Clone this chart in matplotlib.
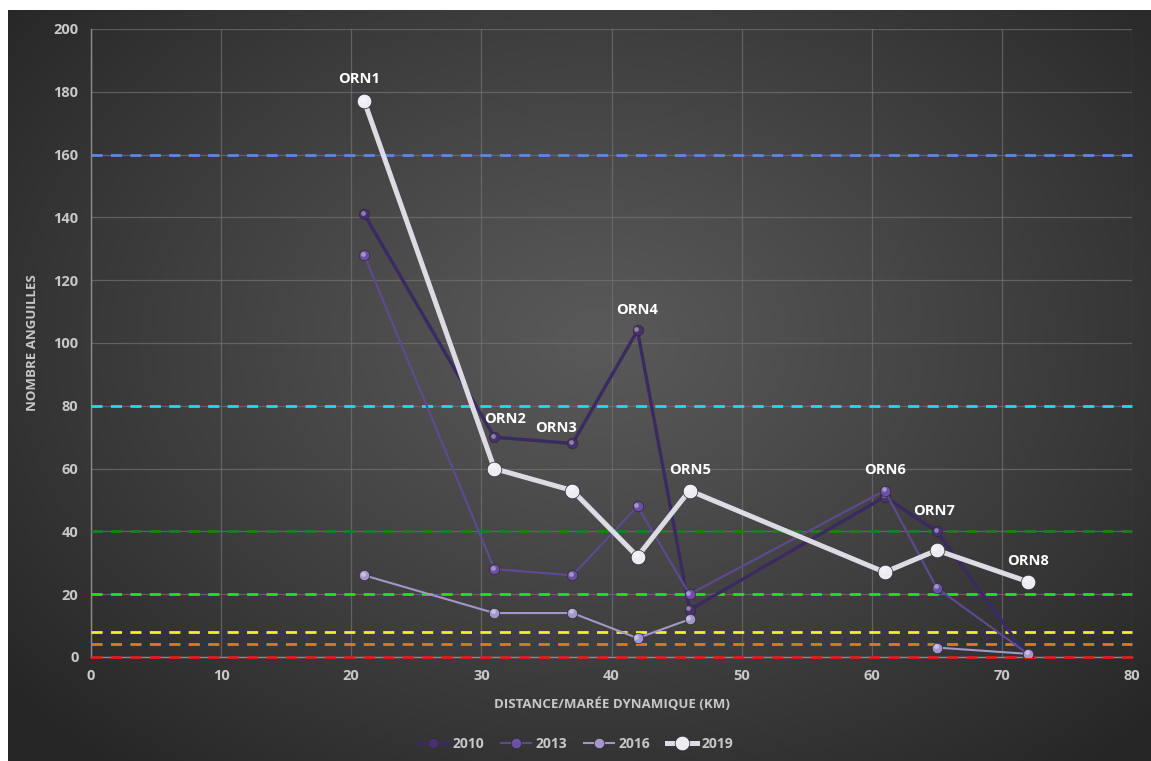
import numpy as np
import matplotlib
matplotlib.use("Agg")
import matplotlib.pyplot as plt
from matplotlib.transforms import offset_copy

plt.rcParams['font.family'] = ['Open Sans', 'DejaVu Sans']

# stations / distance (km)
stations = ['ORN1', 'ORN2', 'ORN3', 'ORN4', 'ORN5', 'ORN6', 'ORN7', 'ORN8']
distance = [21, 31, 37, 42, 46, 61, 65, 72]

y2010 = [141, 70, 68, 104, 15, 51, 40, 0]
y2013 = [128, 28, 26, 48, 20, 53, 22, 1]
y2016 = [26, 14, 14, 6, 12, np.nan, 3, 1]
y2019 = [177, 60, 53, 32, 53, 27, 34, 24]

years = ['2010', '2013', '2016', '2019']

# threshold levels
seuils = [160, 80, 40, 20, 8, 4, 0]
seuil_colors = ['#5b8ad8', '#22dbe8', '#1f7d1f', '#22e022', '#f2f21c', '#e2781a', '#e01c1c']

# label nudges (points) so ORN2/ORN3 do not collide
label_dx = [-4, 8, -12, 0, 0, 0, -2, 0]
label_dy = [16, 13, 11, 15, 15, 15, 15, 15]

fig = plt.figure(figsize=(11.51, 7.61), dpi=100, facecolor='white')

# dark radial background
bg = fig.add_axes([8 / 1151, 0, 1 - 8 / 1151, 751 / 761])
bg.set_axis_off()
h, w = 751, 1143
yy, xx = np.mgrid[0:h, 0:w]
cx, cy = 590, 330
r = np.sqrt(((xx - cx) / 760.0) ** 2 + ((yy - cy) / 560.0) ** 2)
r = np.clip(r, 0, 1)
grey = 0.35 - (0.35 - 0.15) * r ** 1.1
img = np.dstack([grey, grey, grey])
bg.imshow(img, aspect='auto', extent=[0, 1, 0, 1], origin='upper')
bg.set_xlim(0, 1)
bg.set_ylim(0, 1)

ax = fig.add_axes([91 / 1151, 104 / 761, 1041 / 1151, 628 / 761])
ax.patch.set_alpha(0)

ax.set_xlim(0, 80)
ax.set_ylim(0, 200)
ax.set_xticks(range(0, 81, 10))
ax.set_yticks(range(0, 201, 20))
ax.grid(True, color='#727272', lw=0.9, alpha=0.7)
ax.set_axisbelow(True)
for s in ['top', 'right']:
    ax.spines[s].set_visible(False)
for s in ['left', 'bottom']:
    ax.spines[s].set_color('#8c8c8c')
    ax.spines[s].set_linewidth(1)
ax.tick_params(length=0, colors='#c8c8c8', labelsize=10.5, pad=9)
for lab in ax.get_xticklabels() + ax.get_yticklabels():
    lab.set_fontweight('bold')

for lvl, c in zip(seuils, seuil_colors):
    ax.plot([0, 80], [lvl, lvl], color=c, lw=2, ls=(0, (4, 3)), zorder=2.6,
            clip_on=False)

styles = {
    '2010': dict(color='#3b2a62', lw=2.4, mfc='#46306f', ms=7.5),
    '2013': dict(color='#5e4a92', lw=1.5, mfc='#6c50a6', ms=7.5),
    '2016': dict(color='#a396c8', lw=1.5, mfc='#a596cc', ms=7.5),
    '2019': dict(color='#dcdce4', lw=3.6, mfc='#ececf2', ms=10.5),
}
series = {'2010': y2010, '2013': y2013, '2016': y2016, '2019': y2019}

for i, yr in enumerate(years):
    st = styles[yr]
    vals = np.array(series[yr], dtype=float)
    ax.plot(distance, vals, color=st['color'], lw=st['lw'], marker='o',
            ms=st['ms'], mfc=st['mfc'], mec='#2c2c34', mew=0.5,
            label=yr, zorder=3 + i)
    # small highlight up-left for the sphere look
    tr = offset_copy(ax.transData, fig=fig, x=-st['ms'] * 0.12,
                     y=st['ms'] * 0.15, units='points')
    ax.plot(distance, vals, ls='none', marker='o', ms=st['ms'] * 0.45,
            mfc='white', mec='none', alpha=0.4, transform=tr, zorder=3.5 + i)

# station labels above highest point
tops = np.nanmax(np.array([y2010, y2013, y2016, y2019], dtype=float), axis=0)
for name, x, top, dx, dy in zip(stations, distance, tops, label_dx, label_dy):
    ax.annotate(name, (x, top), xytext=(dx, dy), textcoords='offset points',
                ha='center', va='center', color='white', fontsize=10.5,
                fontweight='bold', zorder=10)

ax.set_xlabel('DISTANCE/MARÉE DYNAMIQUE (KM)', color='#c8c8c8', fontsize=9.5,
              fontweight='bold', labelpad=10)
ax.set_ylabel('NOMBRE ANGUILLES', color='#c8c8c8', fontsize=9.5,
              fontweight='bold', labelpad=10)

leg = fig.legend(*ax.get_legend_handles_labels(), loc='center',
                 bbox_to_anchor=(0.5, 17 / 761), ncol=4, frameon=False,
                 fontsize=10, handlelength=2.2, columnspacing=1.2,
                 handletextpad=0.3)
for t in leg.get_texts():
    t.set_color('#c8c8c8')
    t.set_fontweight('bold')

fig.savefig('out.png', dpi=100, facecolor='white')
